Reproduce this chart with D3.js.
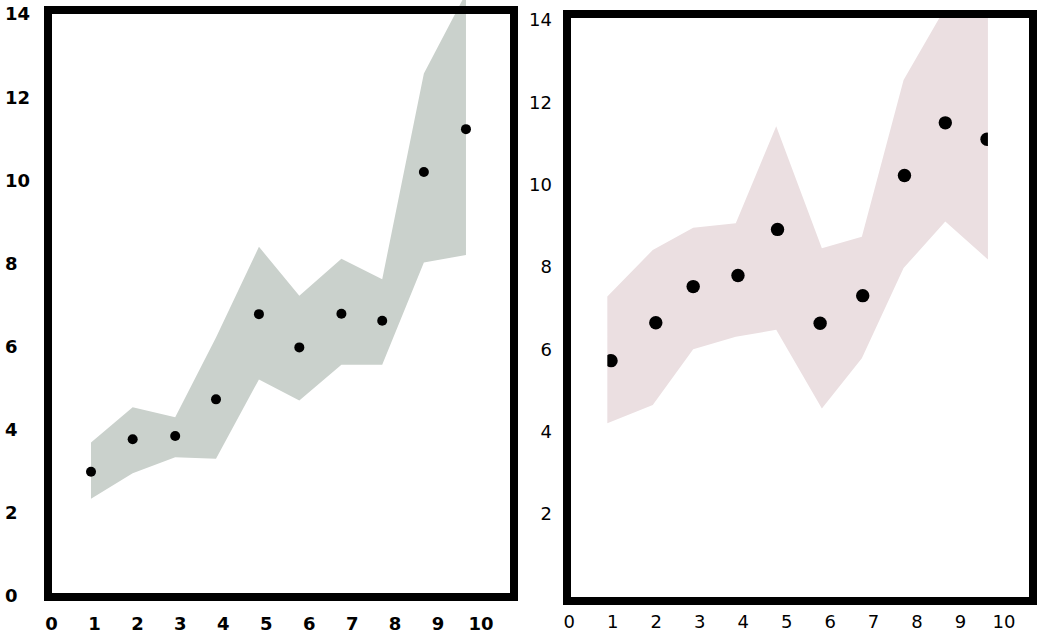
<!DOCTYPE html>
<html>
<head>
<meta charset="utf-8">
<script src="https://cdn.jsdelivr.net/npm/d3@7/dist/d3.min.js"></script>
<style>
  html, body { margin: 0; padding: 0; background: #fff; }
  svg { display: block; }
</style>
</head>
<body>
<svg id="chart" width="1040" height="636"></svg>
<script>
// ---- Data ----
const xTicks = [0, 1, 2, 3, 4, 5, 6, 7, 8, 9, 10];
const leftYTicks = [0, 2, 4, 6, 8, 10, 12, 14];
const rightYTicks = [2, 4, 6, 8, 10, 12, 14];

// Left panel (grey band)
const leftX     = [0.92, 1.89, 2.88, 3.83, 4.83, 5.77, 6.75, 7.70, 8.67, 9.65];
const leftMean  = [2.99, 3.77, 3.85, 4.73, 6.78, 5.98, 6.79, 6.62, 10.20, 11.23];
const leftUpper = [3.69, 4.54, 4.30, 6.22, 8.40, 7.22, 8.11, 7.62, 12.57, 14.50];
const leftLower = [2.34, 2.95, 3.34, 3.30, 5.21, 4.70, 5.56, 5.56, 8.02, 8.20];

// Right panel (pink band)
const rightX     = [0.96, 1.99, 2.85, 3.88, 4.79, 5.77, 6.75, 7.71, 8.65, 9.61];
const rightMean  = [5.72, 6.64, 7.52, 7.79, 8.91, 6.63, 7.30, 10.22, 11.50, 11.10];
const rightBandX = [0.875, 1.92, 2.85, 3.83, 4.76, 5.81, 6.73, 7.69, 8.65, 9.63];
const rightUpper = [7.28, 8.41, 8.95, 9.06, 11.42, 8.45, 8.73, 12.54, 14.30, 14.30];
const rightLower = [4.20, 4.64, 6.00, 6.30, 6.47, 4.56, 5.78, 7.97, 9.10, 8.18];

const svg = d3.select("#chart");

function panel(cfg) {
  const g = svg.append("g");
  const x = d3.scaleLinear().domain([0, 10]).range(cfg.xRange);
  const y = d3.scaleLinear().domain([0, 14]).range(cfg.yRange);
  const id = cfg.id;

  const defs = svg.append("defs");
  if (cfg.clipBand) {
    defs.append("clipPath").attr("id", id + "-bandclip")
      .append("rect")
      .attr("x", cfg.frame.x).attr("y", cfg.frame.y + 4)
      .attr("width", cfg.frame.w).attr("height", cfg.frame.h);
  }
  if (cfg.clipPoints) {
    defs.append("clipPath").attr("id", id + "-ptclip")
      .append("rect")
      .attr("x", x(cfg.bandX[0])).attr("y", 0)
      .attr("width", x(cfg.bandX[cfg.bandX.length - 1]) - x(cfg.bandX[0]))
      .attr("height", 636);
  }

  // band
  const bandData = cfg.bandX.map((bx, i) => ({ x: bx, lo: cfg.lower[i], hi: cfg.upper[i] }));
  const area = d3.area()
    .x(d => x(d.x))
    .y0(d => y(d.lo))
    .y1(d => y(d.hi));
  const band = g.append("path")
    .datum(bandData)
    .attr("d", area)
    .attr("fill", cfg.bandColor);
  if (cfg.clipBand) band.attr("clip-path", `url(#${id}-bandclip)`);

  // points
  const pts = g.append("g");
  if (cfg.clipPoints) pts.attr("clip-path", `url(#${id}-ptclip)`);
  pts.selectAll("circle")
    .data(cfg.px.map((v, i) => ({ x: v, y: cfg.mean[i] })))
    .join("circle")
    .attr("cx", d => x(d.x))
    .attr("cy", d => y(d.y))
    .attr("r", cfg.r)
    .attr("fill", "#000");

  // frame
  g.append("rect")
    .attr("x", cfg.frame.x).attr("y", cfg.frame.y)
    .attr("width", cfg.frame.w).attr("height", cfg.frame.h)
    .attr("fill", "none")
    .attr("stroke", "#000")
    .attr("stroke-width", 8);

  // x tick labels
  g.append("g").selectAll("text")
    .data(xTicks)
    .join("text")
    .attr("x", d => x(d))
    .attr("y", cfg.xLabelY)
    .attr("text-anchor", "middle")
    .attr("font-family", "DejaVu Sans")
    .attr("font-size", 18)
    .attr("font-weight", cfg.bold ? "bold" : "normal")
    .attr("fill", "#000")
    .text(d => d);

  // y tick labels
  g.append("g").selectAll("text")
    .data(cfg.yTicks)
    .join("text")
    .attr("x", cfg.yLabelX)
    .attr("y", d => y(d))
    .attr("dy", "0.36em")
    .attr("text-anchor", cfg.yAnchor)
    .attr("font-family", "DejaVu Sans")
    .attr("font-size", 18)
    .attr("font-weight", cfg.bold ? "bold" : "normal")
    .attr("fill", "#000")
    .text(d => d);
}

panel({
  id: "left",
  xRange: [51.5, 481],
  yRange: [596, 14],
  px: leftX, mean: leftMean,
  bandX: leftX, upper: leftUpper, lower: leftLower,
  bandColor: "#cad1cc",
  r: 5,
  frame: { x: 48, y: 10, w: 466, h: 587 },
  xLabelY: 630,
  yTicks: leftYTicks, yLabelX: 5, yAnchor: "start",
  bold: true,
  clipBand: false, clipPoints: false
});

panel({
  id: "right",
  xRange: [569.3, 1004],
  yRange: [596, 20],
  px: rightX, mean: rightMean,
  bandX: rightBandX, upper: rightUpper, lower: rightLower,
  bandColor: "#ebdfe1",
  r: 6.7,
  frame: { x: 567, y: 14, w: 466, h: 587 },
  xLabelY: 628,
  yTicks: rightYTicks, yLabelX: 552, yAnchor: "end",
  bold: false,
  clipBand: true, clipPoints: true
});
</script>
</body>
</html>
